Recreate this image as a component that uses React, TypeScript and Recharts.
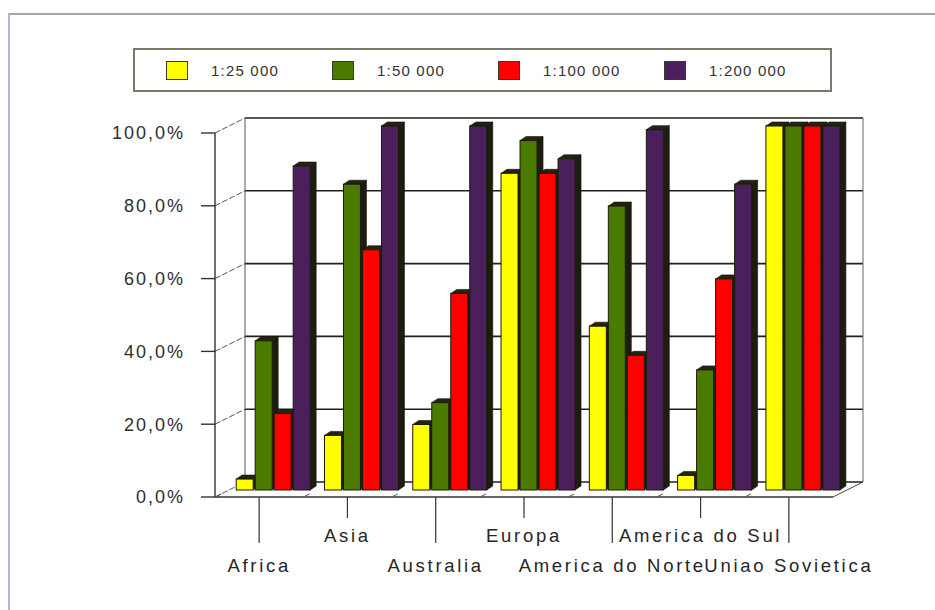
import React from 'react';
import { BarChart, Bar, XAxis, YAxis, CartesianGrid, Legend } from 'recharts';

const categories = ['Africa', 'Asia', 'Australia', 'Europa', 'America do Norte', 'America do Sul', 'Uniao Sovietica'];
const scale25 = [3, 15, 18, 87, 45, 4, 100];
const scale50 = [41, 84, 24, 96, 78, 33, 100];
const scale100 = [21, 66, 54, 87, 37, 58, 100];
const scale200 = [89, 100, 100, 91, 99, 84, 100];
const seriesNames = ['1:25 000', '1:50 000', '1:100 000', '1:200 000'];
const yTicks = [0, 20, 40, 60, 80, 100];

const colors = ['#ffff00', '#4a7a00', '#ff0000', '#4a1f5c'];
const keys = ['s25', 's50', 's100', 's200'];

const data = categories.map((name, i) => ({
  name,
  s25: scale25[i],
  s50: scale50[i],
  s100: scale100[i],
  s200: scale200[i],
}));

// 3d depth of the box (back wall) and of the bars (they stand mid-way)
const DX = 30;
const DY = 15;
const FONT = '"Liberation Sans", Arial, sans-serif';
const EDGE = '#222218';

const Bar3D = (props: any) => {
  const { x, y, width, height, fill } = props;
  if (!height || height <= 0) return null;
  const X = x + DX / 2;
  const Y = y - 7;
  const fw = width - 2;
  const d = 6;
  const h = 4;
  return (
    <g>
      <polygon
        points={`${X + fw},${Y} ${X + fw + d},${Y - h} ${X + fw + d},${Y + height - h} ${X + fw},${Y + height}`}
        fill="#1d1d0e"
        stroke="#111"
        strokeWidth={0.6}
      />
      <polygon
        points={`${X},${Y} ${X + d},${Y - h} ${X + fw + d},${Y - h} ${X + fw},${Y}`}
        fill="#24240f"
        stroke="#111"
        strokeWidth={0.6}
      />
      <rect x={X} y={Y} width={fw} height={height} fill={fill} stroke="#1a1a08" strokeWidth={1} />
    </g>
  );
};

const gridLine = (p: any) => {
  const { x1, y1, x2, index, y, height } = p;
  const isTop = Math.abs(y1 - y) < 0.5;
  const isBottom = Math.abs(y1 - (y + height)) < 0.5;
  return (
    <g key={`g-${index}`}>
      <line x1={x1 + DX} y1={y1 - DY} x2={x2 + DX} y2={y1 - DY} stroke={EDGE} strokeWidth={1.6} />
      <line x1={x1} y1={y1} x2={x1 + DX} y2={y1 - DY} stroke="#555" strokeWidth={1} strokeDasharray="6 2" />
      {isTop && (
        <>
          <line x1={x1 + DX} y1={y1 - DY} x2={x1 + DX} y2={y + height - DY} stroke="#555" strokeWidth={1} />
          <line x1={x2 + DX} y1={y1 - DY} x2={x2 + DX} y2={y + height - DY} stroke="#666" strokeWidth={1} />
        </>
      )}
      {isBottom && (
        <line x1={x2} y1={y1} x2={x2 + DX} y2={y1 - DY} stroke="#444" strokeWidth={1} />
      )}
    </g>
  );
};

const CategoryTick = (props: any) => {
  const { x, y, payload, index } = props;
  const high = index % 2 === 1;
  const lineEnd = high ? 21 : 46;
  const textY = high ? 45 : 75;
  return (
    <g>
      <line x1={x} y1={y} x2={x} y2={y + lineEnd} stroke="#333" strokeWidth={1.2} />
      <line x1={x - 44} y1={y} x2={x - 44 + 6} y2={y - 3} stroke="#555" strokeWidth={1} />
      <text
        x={x}
        y={y + textY}
        textAnchor="middle"
        fill="#262626"
        fontSize={18.5}
        letterSpacing={2.7}
        fontFamily={FONT}
      >
        {payload.value}
      </text>
    </g>
  );
};

const LegendBox = () => (
  <div
    style={{
      boxSizing: 'border-box',
      width: 699,
      height: 44,
      border: '2px solid #7a7a6a',
      background: '#fff',
      display: 'flex',
      alignItems: 'center',
      paddingLeft: 31,
      fontFamily: FONT,
    }}
  >
    {seriesNames.map((name, i) => (
      <div key={name} style={{ width: 167, display: 'flex', alignItems: 'center' }}>
        <span
          style={{
            display: 'inline-block',
            width: 20,
            height: 17,
            background: colors[i],
            border: '1.5px solid #3a3a2a',
            marginRight: 23,
          }}
        />
        <span style={{ fontSize: 15, letterSpacing: 1.2, color: '#333' }}>{name}</span>
      </div>
    ))}
  </div>
);

export default function App() {
  return (
    <div style={{ position: 'absolute', left: 0, top: 0, width: 935, height: 610, background: '#fff' }}>
      <div
        style={{
          position: 'absolute',
          left: 8,
          top: 13,
          right: 0,
          bottom: 0,
          borderTop: '2px solid #a9a79c',
          borderLeft: '2px solid #b4b4d8',
        }}
      />
      <div style={{ position: 'absolute', left: 0, top: 0 }}>
        <BarChart
          width={935}
          height={610}
          data={data}
          margin={{ top: 133, right: 102, left: 100, bottom: 23 }}
          barCategoryGap="7%"
          barGap={0}
        >
          <CartesianGrid horizontal={gridLine} vertical={false} />
          <YAxis
            width={115}
            domain={[0, 100]}
            ticks={yTicks}
            interval={0}
            tickSize={14}
            tickMargin={16}
            tickFormatter={(v: number) => `${v.toFixed(1).replace('.', ',')}%`}
            tick={{ fill: '#2e2e2e', fontSize: 18, fontFamily: FONT, letterSpacing: 2 }}
            axisLine={{ stroke: '#333', strokeWidth: 1.4 }}
            tickLine={{ stroke: '#333', strokeWidth: 1.4 }}
          />
          <XAxis
            dataKey="name"
            height={90}
            interval={0}
            tickSize={0}
            tickMargin={0}
            tickLine={false}
            axisLine={{ stroke: '#333', strokeWidth: 1.4 }}
            tick={<CategoryTick />}
          />
          <Legend
            layout="horizontal"
            verticalAlign="middle"
            align="center"
            wrapperStyle={{ position: 'absolute', left: 133, top: 48, width: 699, height: 44 }}
            content={<LegendBox />}
          />
          {keys.map((k, i) => (
            <Bar
              key={k}
              dataKey={k}
              name={seriesNames[i]}
              fill={colors[i]}
              shape={<Bar3D />}
              isAnimationActive={false}
            />
          ))}
        </BarChart>
      </div>
    </div>
  );
}
